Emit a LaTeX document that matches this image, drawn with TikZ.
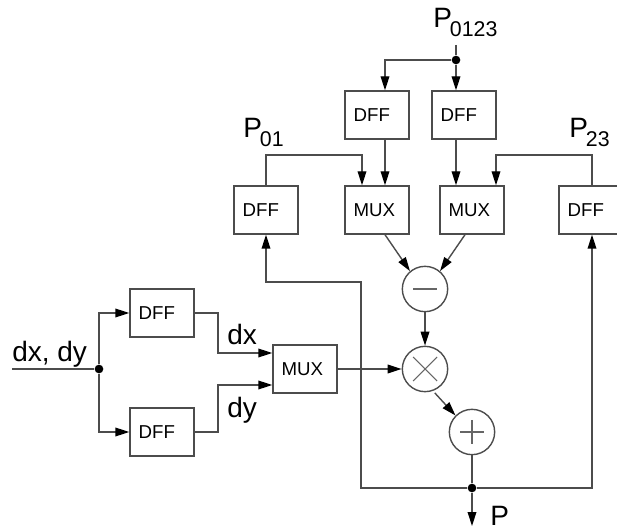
\documentclass[tikz,border=0pt]{standalone}
\usepackage{fontspec}
\setmainfont{Liberation Sans}
\usetikzlibrary{arrows.meta}

\newcommand{\psub}[1]{P\kern-1.5pt\raisebox{-6.5pt}{\fontsize{16}{18}\selectfont #1}}

\tikzset{
	wire/.style={draw=black!70, line width=1.05pt},
	arrowwire/.style={wire, -{Triangle[length=10.5pt,width=6.5pt,black]}},
	blockbox/.style={draw=black!70, line width=1.05pt, text width=35pt, align=left, minimum height=36pt, inner xsep=6.5pt, inner ysep=0pt, font=\fontsize{14}{16}\selectfont},
	opcircle/.style={circle, draw=black!70, line width=1.05pt, minimum size=34pt, inner sep=0pt},
	opmark/.style={draw=black!60, line width=0.8pt},
	joint/.style={circle, fill=black, minimum size=6.5pt, inner sep=0pt},
	biglabel/.style={inner sep=0pt, font=\fontsize{21}{24}\selectfont}
}

\begin{document}
\begin{tikzpicture}[x=0.75pt, y=-0.75pt]
\useasboundingbox (0,0) rectangle (617,530);

% Top registers
\node[blockbox] (dffa) at (377,115) {DFF};
\node[blockbox] (dffb) at (464,115) {DFF};

% Middle row
\node[blockbox] (dffl) at (266,210) {DFF};
\node[blockbox] (muxl) at (377,210) {MUX};
\node[blockbox] (muxr) at (472,210) {MUX};
\node[blockbox] (dffr) at (591,210) {DFF};

% Left side
\node[blockbox] (dffx) at (162,313) {DFF};
\node[blockbox] (dffy) at (162,432) {DFF};
\node[blockbox] (mux) at (305,369) {MUX};

% Operators
\node[opcircle] (minus) at (425,289) {};
\node[opcircle] (times) at (425,369) {};
\node[opcircle] (plus) at (472,432) {};
\draw[opmark] (413,289) -- (437,289);
\draw[opmark] (413,357) -- (437,381) (413,381) -- (437,357);
\draw[opmark] (460,432) -- (484,432) (472,420) -- (472,444);

% Joints and free ends
\node[joint] (jtop) at (456,60) {};
\node[joint] (jin) at (99,369) {};
\node[joint] (jout) at (472,488) {};
\coordinate (ptop) at (456,45);
\coordinate (din) at (12,369);
\coordinate (pout) at (472,526);
\coordinate (fback) at (361,282);
\coordinate (xa) at (385,0);
\coordinate (xl) at (362,155);
\coordinate (xr) at (496,155);
\coordinate (xd) at (592,0);
\coordinate (xm) at (218,353);
\coordinate (ym) at (218,385);

% Labels
\node[biglabel, anchor=base west] (lptop) at (433,28) {\psub{0123}};
\node[biglabel, anchor=base west] (lpl) at (243,138) {\psub{01}};
\node[biglabel, anchor=base west] (lpr) at (569,138) {\psub{23}};
\node[biglabel, anchor=base west] (lin) at (12,362) {dx, dy};
\node[biglabel, anchor=base west] (ldx) at (227,345) {dx};
\node[biglabel, anchor=base west] (ldy) at (227,417) {dy};
\node[biglabel, anchor=base west] (lp) at (490,525) {P};

% Connections
\draw[wire] (ptop) -- (jtop);
\draw[arrowwire] (jtop) -- (dffb.north -| jtop);
\draw[arrowwire] (jtop) -| (dffa.north -| xa);
\draw[arrowwire] (dffa.south -| xa) -- (muxl.north -| xa);
\draw[arrowwire] (dffb.south -| jtop) -- (muxr.north -| jtop);
\draw[arrowwire] (dffl.north) |- (xl) -- (muxl.north -| xl);
\draw[arrowwire] (dffr.north -| xd) |- (xr) -- (muxr.north -| xr);
\draw[arrowwire] (muxl.south -| xa) -- (minus.130);
\draw[arrowwire] (muxr.south) ++(-5.25pt,0) -- (minus.50);
\draw[arrowwire] (minus) -- (times);
\draw[arrowwire] (mux) -- (times);
\draw[arrowwire, shorten <=2pt] (times.-70) -- (plus.135);
\draw[wire] (plus) -- (jout);
\draw[arrowwire] (jout) -- (pout);
\draw[arrowwire] (jout) -| (dffr.south -| xd);
\draw[arrowwire] (jout) -| (fback) -| (dffl.south);
\draw[wire] (din) -- (jin);
\draw[arrowwire] (jin) |- (dffx);
\draw[arrowwire] (jin) |- (dffy);
\draw[arrowwire] (dffx) -| (xm) -- (mux.west |- xm);
\draw[arrowwire] (dffy) -| (ym) -- (mux.west |- ym);
\end{tikzpicture}
\end{document}
